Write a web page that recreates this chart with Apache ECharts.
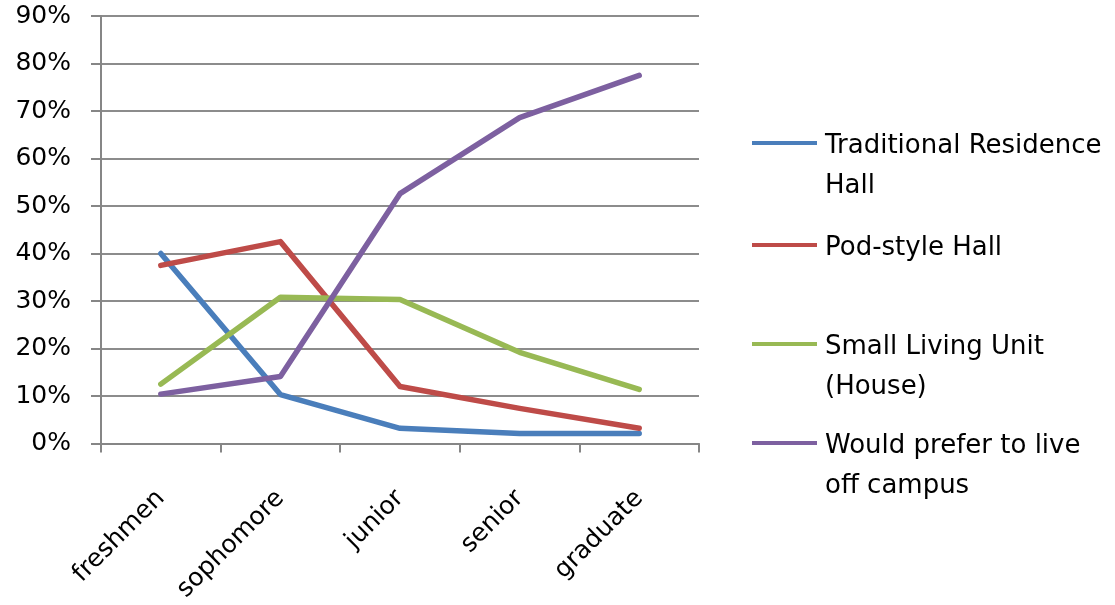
<!DOCTYPE html>
<html>
<head>
<meta charset="utf-8">
<script src="https://cdn.jsdelivr.net/npm/echarts@6/dist/echarts.min.js"></script>
<style>
  html, body { margin: 0; padding: 0; background: #fff; }
  #chart { width: 1115px; height: 605px; }
</style>
</head>
<body>
<div id="chart"></div>
<script>
// Housing preference by class year (percent of respondents)
const categories = ['freshmen', 'sophomore', 'junior', 'senior', 'graduate'];
const seriesNames = ['Traditional Residence Hall', 'Pod-style Hall', 'Small Living Unit (House)', 'Would prefer to live off campus'];
const legendLabels = ['Traditional Residence\nHall', 'Pod-style Hall', 'Small Living Unit\n(House)', 'Would prefer to live\noff campus'];
const traditionalHall = [40.0, 10.3, 3.2, 2.1, 2.1];
const podStyleHall = [37.5, 42.5, 12.0, 7.4, 3.2];
const smallLivingUnit = [12.5, 30.8, 30.3, 19.2, 11.4];
const offCampus = [10.4, 14.1, 52.6, 68.6, 77.5];
const yTicks = { min: 0, max: 90, step: 10 };

const colors = ['#4A7EBB', '#BE4B48', '#98B954', '#7D60A0'];
const seriesData = [traditionalHall, podStyleHall, smallLivingUnit, offCampus];
const FONT = 'DejaVu Sans';

// One legend block per entry so each can sit at its own height.
// Wrapped labels get a leading blank line so their first line sits level with the swatch.
// The swatch path keeps a 4px bar at the top of a 10px box, so text sits a little below it.
const legendIconY = [143, 245, 344, 443];
const legends = seriesNames.map((name, i) => {
  const twoLine = legendLabels[i].indexOf('\n') >= 0;
  return {
    orient: 'vertical',
    left: 752,
    top: legendIconY[i] - (twoLine ? 57 : 17),
    padding: 0,
    icon: 'path://M0,0H65V4H0ZM0,10',
    itemWidth: 65,
    itemHeight: 10,
    data: [name],
    formatter: () => (twoLine ? '\n' : '') + legendLabels[i],
    textStyle: {
      fontFamily: FONT,
      fontSize: 26,
      color: '#000',
      lineHeight: 40,
      padding: [0, 0, 0, 3]
    },
    selectedMode: false
  };
});

const option = {
  animation: false,
  color: colors,
  textStyle: { fontFamily: FONT },
  grid: { left: 101, right: 416, top: 16, bottom: 161.5, containLabel: false },
  legend: legends,
  xAxis: {
    type: 'category',
    data: categories,
    boundaryGap: true,
    axisLine: { lineStyle: { color: '#868686', width: 2 } },
    axisTick: { show: true, length: 9, alignWithLabel: false, lineStyle: { color: '#868686', width: 2 } },
    axisLabel: {
      rotate: 45,
      margin: 51,
      fontFamily: FONT,
      fontSize: 25,
      color: '#000',
      interval: 0
    },
    splitLine: { show: false }
  },
  yAxis: {
    type: 'value',
    min: yTicks.min,
    max: yTicks.max,
    interval: yTicks.step,
    axisLine: { show: true, lineStyle: { color: '#868686', width: 2 } },
    axisTick: { show: true, length: 10, lineStyle: { color: '#868686', width: 2 } },
    axisLabel: {
      margin: 30,
      fontFamily: FONT,
      fontSize: 25,
      color: '#000',
      formatter: '{value}%'
    },
    splitLine: { show: true, lineStyle: { color: '#8C8C8C', width: 2 } }
  },
  series: seriesNames.map((name, i) => ({
    name: name,
    type: 'line',
    data: seriesData[i],
    symbol: 'none',
    smooth: false,
    lineStyle: { width: 5.5, color: colors[i], cap: 'round', join: 'round' },
    itemStyle: { color: colors[i] }
  }))
};

const chart = echarts.init(document.getElementById('chart'), null, { renderer: 'canvas' });
chart.setOption(option);
</script>
</body>
</html>
